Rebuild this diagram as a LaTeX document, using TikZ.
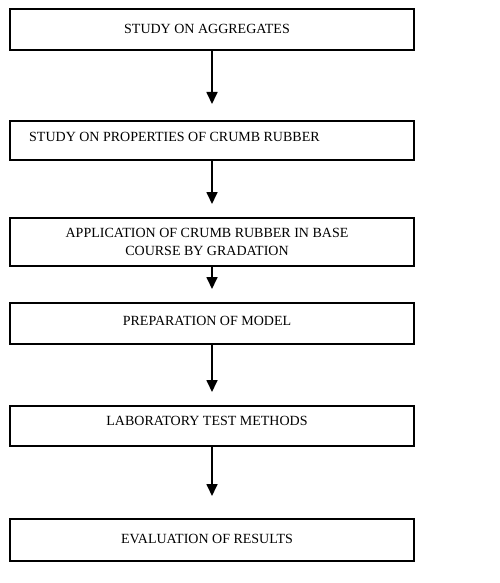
\documentclass[tikz,border=0pt]{standalone}
\usepackage{fontspec}
\setmainfont{Liberation Serif}
\usetikzlibrary{arrows.meta}
\begin{document}
\begin{tikzpicture}[x=1pt,y=-1pt,
  box/.style={draw=black,line width=1.3pt,minimum width=404pt,inner sep=0pt,outer sep=0pt},
  lbl/.style={font=\fontsize{14}{17.5}\selectfont,inner sep=0pt,align=center},
  flow/.style={line width=1.7pt,-{Triangle[width=11pt,length=12pt]}}]
\useasboundingbox (0,0) rectangle (499,583);
\node[box,minimum height=41pt] (b1) at (212,29.5) {};
\node[box,minimum height=39pt] (b2) at (212,140.5) {};
\node[box,minimum height=48pt] (b3) at (212,242) {};
\node[box,minimum height=41pt] (b4) at (212,323.5) {};
\node[box,minimum height=40pt] (b5) at (212,426) {};
\node[box,minimum height=42pt] (b6) at (212,540) {};
\node[lbl] (t1) at (207,28.5) {STUDY ON AGGREGATES};
\node[lbl,anchor=west] (t2) at (29,137) {STUDY ON PROPERTIES OF CRUMB RUBBER};
\node[lbl] (t3) at (207,241.7) {APPLICATION OF CRUMB RUBBER IN BASE\\COURSE BY GRADATION};
\node[lbl] (t4) at (207,321) {PREPARATION OF MODEL};
\node[lbl] (t5) at (207,421) {LABORATORY TEST METHODS};
\node[lbl] (t6) at (207,538.5) {EVALUATION OF RESULTS};
\draw[flow] (b1.south) -- ([yshift=17pt]b2.north);
\draw[flow] (b2.south) -- ([yshift=14pt]b3.north);
\draw[flow] (b3.south) -- ([yshift=14pt]b4.north);
\draw[flow] (b4.south) -- ([yshift=14pt]b5.north);
\draw[flow] (b5.south) -- ([yshift=23pt]b6.north);
\end{tikzpicture}
\end{document}
